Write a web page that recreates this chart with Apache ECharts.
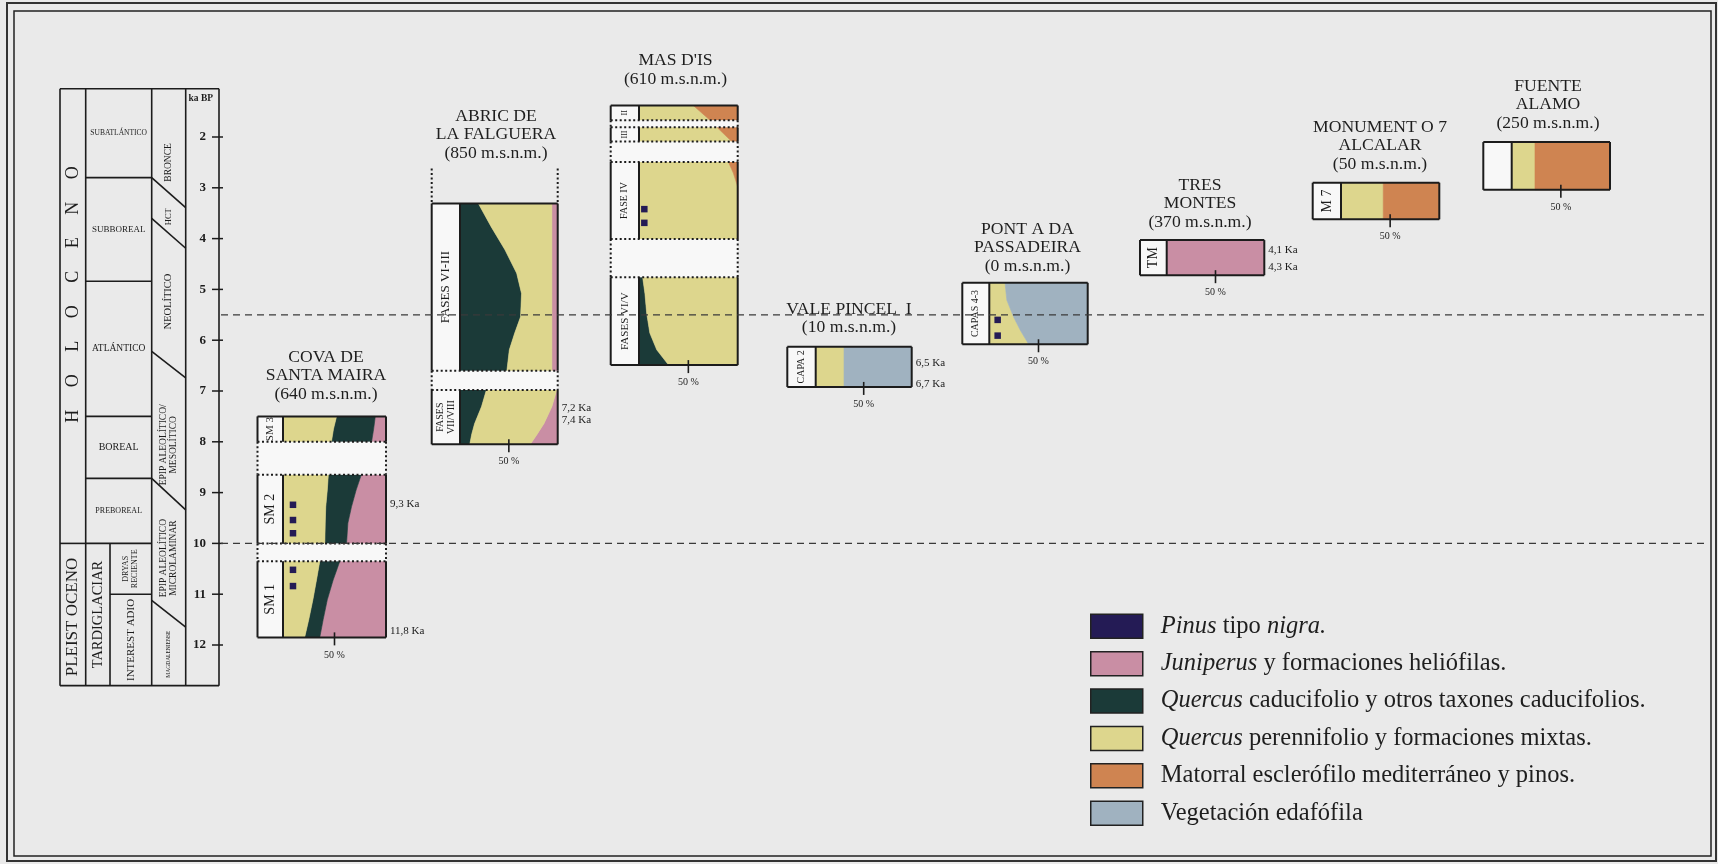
<!DOCTYPE html>
<html>
<head>
<meta charset="utf-8">
<script src="https://cdn.jsdelivr.net/npm/echarts@6/dist/echarts.min.js"></script>
<style>
  html, body { margin: 0; padding: 0; background: #eaeaea; }
  #chart { width: 1718px; height: 864px; }
</style>
</head>
<body>
<div id="chart"></div>
<script>
// ---------- vegetation groups (legend order) ----------
const GROUP_KEYS = ['pin', 'jun', 'qca', 'qpe', 'mat', 'eda'];
const GROUP_NAMES = [
  'Pinus tipo nigra.',
  'Juniperus y formaciones heliófilas.',
  'Quercus caducifolio y otros taxones caducifolios.',
  'Quercus perennifolio y formaciones mixtas.',
  'Matorral esclerófilo mediterráneo y pinos.',
  'Vegetación edafófila'
];
const GROUP_COLORS = ['#241b55', '#c98ea4', '#1b3a38', '#ddd68d', '#cf8451', '#a0b2c0'];

// ---------- chronology column (ka BP) ----------
const KA_TICKS = [2, 3, 4, 5, 6, 7, 8, 9, 10, 11, 12];
const TABLE_SPAN = [1.05, 12.8];
const EPOCH_NAMES = ['H     O     L     O     C     E     N     O', 'PLEIST OCENO'];
const EPOCH_SPANS = [[1.05, 10], [10, 12.8]];
const EPOCH_MID = [5.1, 11.45];
const PERIOD_NAMES = ['SUBATLÁNTICO', 'SUBBOREAL', 'ATLÁNTICO', 'BOREAL', 'PREBOREAL'];
const PERIOD_SPANS = [[1.05, 2.8], [2.8, 4.84], [4.84, 7.5], [7.5, 8.72], [8.72, 10]];
const LATE_NAMES = ['TARDIGLACIAR'];
const LATE_SPANS = [[10, 12.8]];
const STADIAL_NAMES = ['DRYAS\nRECIENTE', 'INTEREST ADIO'];
const STADIAL_SPANS = [[10, 11], [11, 12.8]];
const CULTURE_NAMES = ['BRONCE', 'HCT', 'NEOLÍTICO', 'EPIP ALEOLÍTICO/\nMESOLÍTICO', 'EPIP ALEOLÍTICO\nMICROLAMINAR', 'MAGDALENIENSE'];
const CULTURE_MID = [2.5, 3.57, 5.24, 8.06, 10.29, 12.18];
const CULTURE_LIMITS = [[2.8, 3.39], [3.6, 4.19], [6.22, 6.74], [8.72, 9.34], [11.12, 11.65]];
const CLIMATE_BREAKS = [5.5, 10];

// ---------- sites ----------
const SITE_NAMES = ['COVA DE\nSANTA MAIRA', 'ABRIC DE\nLA FALGUERA', "MAS D'IS", 'VALE PINCEL  I',
  'PONT A DA\nPASSADEIRA', 'TRES\nMONTES', 'MONUMENT O 7\nALCALAR', 'FUENTE\nALAMO'];
const SITE_ALTITUDES = ['(640 m.s.n.m.)', '(850 m.s.n.m.)', '(610 m.s.n.m.)', '(10 m.s.n.m.)',
  '(0 m.s.n.m.)', '(370 m.s.n.m.)', '(50 m.s.n.m.)', '(250 m.s.n.m.)'];

// Cova de Santa Maira: cumulative right edges (%) of each layer
const SM_LABELS = ['SM 3', 'SM 2', 'SM 1'];
const SM3_KA = [7.5, 7.75, 8.0];
const SM3_QPE = [52, 49, 47];
const SM3_QCA = [89.6, 88, 86];
const SM2_KA = [8.65, 8.95, 9.28, 9.6, 10.0];
const SM2_QPE = [44, 43, 41.5, 41, 40.6];
const SM2_QCA = [76, 71, 66.5, 63, 61.7];
const SM1_KA = [10.35, 10.72, 11.11, 11.5, 11.85];
const SM1_QPE = [35.7, 32.5, 29, 25, 21];
const SM1_QCA = [55.2, 48.7, 43, 39, 35.7];
const SM_PINUS_KA = [9.24, 9.54, 9.8, 10.52, 10.84];
const SM_AGES = ['9,3 Ka', '11,8 Ka'];
const SM_AGE_KA = [9.23, 11.72];

// Abric de la Falguera
const FA_LABELS = ['FASES VI-III', 'FASES\nVII/VIII'];
const FA_LEAD = [2.62, 3.31];
const FA1_KA = [3.31, 3.77, 4.22, 4.68, 5.08, 5.54, 5.86, 6.19, 6.6];
const FA1_QCA = [18.8, 32, 46, 58, 63, 62, 56, 50.5, 48];
const FA1_QPE = [94, 94, 94, 94, 94, 94, 94, 94, 94];
const FA2_KA = [6.98, 7.31, 7.64, 7.85, 8.05];
const FA2_QCA = [27, 22, 15, 12, 10];
const FA2_QPE = [99, 94, 86, 79, 72];
const FA_AGES = ['7,2 Ka', '7,4 Ka'];
const FA_AGE_KA = [7.33, 7.57];

// Mas d'Is
const MI_LABELS = ['II', 'III', 'FASE IV', 'FASES VI/V'];
const MI2_KA = [1.38, 1.67];
const MI2_QPE = [55, 72];
const MI3_KA = [1.81, 2.09];
const MI3_QPE = [79, 94];
const MI4_KA = [2.49, 2.71, 2.98, 4.01];
const MI4_QPE = [90.5, 95.6, 100, 100];
const MI5_KA = [4.76, 5.08, 5.47, 5.86, 6.19, 6.49];
const MI5_QCA = [3.7, 6, 7.8, 11, 18, 30];
const MI_PINUS_KA = [3.42, 3.69];

// Vale Pincel I
const VP_LABELS = ['CAPA 2'];
const VP_KA = [6.13, 6.92];
const VP_QPE = [29.5, 29.5];
const VP_AGES = ['6,5 Ka', '6,7 Ka'];
const VP_AGE_KA = [6.45, 6.86];

// Ponta da Passadeira
const PP_LABELS = ['CAPAS 4-3'];
const PP_KA = [4.87, 5.21, 5.54, 5.80, 6.08];
const PP_QPE = [16, 17.8, 24.6, 31.4, 40];
const PP_PINUS_KA = [5.6, 5.91];

// Tres Montes
const TM_LABELS = ['TM'];
const TM_KA = [4.03, 4.72];
const TM_AGES = ['4,1 Ka', '4,3 Ka'];
const TM_AGE_KA = [4.23, 4.57];

// Monumento 7 Alcalar
const M7_LABELS = ['M 7'];
const M7_KA = [2.9, 3.62];
const M7_QPE = [43, 43];

// Fuente Alamo
const FU_LABELS = [''];
const FU_KA = [2.1, 3.04];
const FU_QPE = [23.7, 23.7];

// ---------- layout ----------
const SERIF = 'Liberation Serif';
const INK = '#1c1c1c';
const PAPER = '#f8f8f8';
const BAND_TOP = 35.4, BAND_H = 660.4;      // pixel band of the shared 0–13 ka scale
const KA_MIN = 0, KA_MAX = 13;
const COL_X = [0, 16.16, 31.45, 57.67, 79.06, 100];   // chronology column edges (% of table width)

const SITES = [
  { left: 257.5, labelW: 25.5, chartW: 103, titleX: 326, titleY: 357, labelFont: [11, 14, 14],
    labels: SM_LABELS, segs: [[SM3_KA, ['qpe', 'qca', 'jun'], [SM3_QPE, SM3_QCA]],
                              [SM2_KA, ['qpe', 'qca', 'jun'], [SM2_QPE, SM2_QCA]],
                              [SM1_KA, ['qpe', 'qca', 'jun'], [SM1_QPE, SM1_QCA]]],
    pinus: SM_PINUS_KA, pinusX: 9.7, ages: SM_AGES, ageKa: SM_AGE_KA },
  { left: 431.7, labelW: 28.3, chartW: 97.7, titleX: 496, titleY: 116, labelFont: [13, 10],
    labels: FA_LABELS, lead: FA_LEAD,
    segs: [[FA1_KA, ['qca', 'qpe', 'jun'], [FA1_QCA, FA1_QPE]],
           [FA2_KA, ['qca', 'qpe', 'jun'], [FA2_QCA, FA2_QPE]]],
    ages: FA_AGES, ageKa: FA_AGE_KA },
  { left: 610.7, labelW: 28.3, chartW: 98.7, titleX: 675.5, titleY: 60.5, labelFont: [8, 8, 10, 11],
    labels: MI_LABELS,
    segs: [[MI2_KA, ['qpe', 'mat'], [MI2_QPE]], [MI3_KA, ['qpe', 'mat'], [MI3_QPE]],
           [MI4_KA, ['qpe', 'mat'], [MI4_QPE]], [MI5_KA, ['qca', 'qpe'], [MI5_QCA]]],
    pinus: MI_PINUS_KA, pinusX: 5.4 },
  { left: 787.3, labelW: 28.4, chartW: 96, titleX: 849, titleY: 309, labelFont: [10],
    labels: VP_LABELS, segs: [[VP_KA, ['qpe', 'eda'], [VP_QPE]]],
    ages: VP_AGES, ageKa: VP_AGE_KA },
  { left: 962.3, labelW: 27, chartW: 98.4, titleX: 1027.5, titleY: 229, labelFont: [10],
    labels: PP_LABELS, segs: [[PP_KA, ['qpe', 'eda'], [PP_QPE]]],
    pinus: PP_PINUS_KA, pinusX: 8.5 },
  { left: 1140, labelW: 26.7, chartW: 97.6, titleX: 1200, titleY: 185, labelFont: [14],
    labels: TM_LABELS, segs: [[TM_KA, ['jun'], []]], ages: TM_AGES, ageKa: TM_AGE_KA },
  { left: 1312.7, labelW: 28.3, chartW: 98.3, titleX: 1380, titleY: 127, labelFont: [14],
    labels: M7_LABELS, segs: [[M7_KA, ['qpe', 'mat'], [M7_QPE]]] },
  { left: 1483.3, labelW: 28.4, chartW: 98.3, titleX: 1548, titleY: 86, labelFont: [14],
    labels: FU_LABELS, segs: [[FU_KA, ['qpe', 'mat'], [FU_QPE]]] }
];

// ---------- build ----------
const grids = [], xAxes = [], yAxes = [], series = [];

function addGrid(left, width, xMin, xMax, yExtra) {
  const idx = grids.length;
  grids.push({ left, width, top: BAND_TOP, height: BAND_H });
  xAxes.push({ type: 'value', gridIndex: idx, min: xMin, max: xMax, show: false });
  yAxes.push(Object.assign({ type: 'value', gridIndex: idx, min: KA_MIN, max: KA_MAX, inverse: true, show: false }, yExtra || {}));
  return idx;
}

function lineEl(a, b, style) {
  return { type: 'line', shape: { x1: a[0], y1: a[1], x2: b[0], y2: b[1] }, style };
}
function textEl(p, text, size, extra) {
  return Object.assign({ type: 'text', x: p[0], y: p[1],
    style: { text, fontSize: size, fontFamily: SERIF, fill: INK, align: 'center', verticalAlign: 'middle', lineHeight: Math.round(size * 1.1) } }, extra || {});
}
function vText(p, text, size) {
  return textEl(p, text, size, { rotation: Math.PI / 2 });
}

// chronology table, with the ka BP scale on its right edge
const tIdx = addGrid(60, 159, 0, 100, {
  show: true, position: 'right', offset: 4,
  axisLine: { show: false }, splitLine: { show: false }, axisTick: { show: false },
  axisLabel: { show: true, inside: true, margin: 17, customValues: KA_TICKS,
    fontFamily: SERIF, fontSize: 13, fontWeight: 'bold', color: INK }
});

const PERIOD_FONT = [7.5, 9, 9.5, 10, 8];
const CULTURE_FONT = [9.5, 8.5, 10.5, 9.5, 9.5, 5.5];

series.push({
  type: 'custom', name: 'cronologia', xAxisIndex: tIdx, yAxisIndex: tIdx, silent: true, z: 3,
  data: [[0, TABLE_SPAN[0]]],
  renderItem: (params, api) => {
    const P = (x, v) => api.coord([x, v]);
    const st = { stroke: INK, lineWidth: 1.6 };
    const ch = [];
    const [t0, t1] = TABLE_SPAN;
    [0, 1, 3, 4, 5].forEach(c => ch.push(lineEl(P(COL_X[c], t0), P(COL_X[c], t1), st)));
    ch.push(lineEl(P(0, t0), P(100, t0), st), lineEl(P(0, t1), P(100, t1), st));
    ch.push(lineEl(P(COL_X[2], LATE_SPANS[0][0]), P(COL_X[2], t1), st));
    EPOCH_SPANS.slice(1).forEach(s => ch.push(lineEl(P(COL_X[0], s[0]), P(COL_X[1], s[0]), st)));
    PERIOD_SPANS.forEach(s => ch.push(lineEl(P(COL_X[1], s[1]), P(COL_X[3], s[1]), st)));
    STADIAL_SPANS.slice(1).forEach(s => ch.push(lineEl(P(COL_X[2], s[0]), P(COL_X[3], s[0]), st)));
    CULTURE_LIMITS.forEach(s => ch.push(lineEl(P(COL_X[3], s[0]), P(COL_X[4], s[1]), st)));
    // scale ticks crossing the right edge
    KA_TICKS.forEach(v => {
      const p = P(100, v);
      ch.push(lineEl([p[0] - 7, p[1]], [p[0] + 4, p[1]], { stroke: INK, lineWidth: 1.5 }));
    });

    const c0 = (COL_X[0] + COL_X[1]) / 2;
    EPOCH_NAMES.forEach((n, i) => ch.push(vText(P(c0, EPOCH_MID[i]), n, i === 0 ? 18 : 17)));
    const c1 = (COL_X[1] + COL_X[3]) / 2;
    PERIOD_NAMES.forEach((n, i) => ch.push(textEl(P(c1, (PERIOD_SPANS[i][0] + PERIOD_SPANS[i][1]) / 2), n, PERIOD_FONT[i])));
    const c1a = (COL_X[1] + COL_X[2]) / 2;
    LATE_NAMES.forEach((n, i) => ch.push(vText(P(c1a, (LATE_SPANS[i][0] + LATE_SPANS[i][1]) / 2), n, 14.5)));
    const c1b = (COL_X[2] + COL_X[3]) / 2;
    STADIAL_NAMES.forEach((n, i) => ch.push(vText(P(c1b, (STADIAL_SPANS[i][0] + STADIAL_SPANS[i][1]) / 2), n, i === 0 ? 8 : 11)));
    const c2 = (COL_X[3] + COL_X[4]) / 2;
    CULTURE_NAMES.forEach((n, i) => ch.push(vText(P(c2, CULTURE_MID[i]), n, CULTURE_FONT[i])));
    const c3 = (COL_X[4] + COL_X[5]) / 2;
    const head = textEl(P(c3 - 1, 1.25), 'ka BP', 9.5);
    head.style.fontWeight = 'bold';
    ch.push(head);
    return { type: 'group', children: ch };
  }
});

// site columns
const titles = [];
SITES.forEach((site, si) => {
  const xMin = -100 * site.labelW / site.chartW;
  const g = addGrid(site.left, site.labelW + site.chartW, xMin, 100);
  const segs = site.segs.map((s, i) => ({
    label: site.labels[i], ka: s[0], layers: s[1], cuts: s[2],
    top: s[0][0], bottom: s[0][s[0].length - 1]
  }));

  // vegetation layers, one series per group
  GROUP_KEYS.forEach((key, gi) => {
    if (key === 'pin') return;
    const bands = [];
    segs.forEach(s => s.layers.forEach((k, j) => { if (k === key) bands.push({ s, j }); }));
    if (!bands.length) return;
    series.push({
      type: 'custom', name: GROUP_NAMES[gi], xAxisIndex: g, yAxisIndex: g, silent: true, z: 2,
      itemStyle: { color: GROUP_COLORS[gi] },
      data: bands.map(b => [b.j, b.s.top]),
      renderItem: (params, api) => {
        const { s, j } = bands[params.dataIndex];
        const n = s.ka.length, last = s.layers.length - 1;
        const left = j === 0 ? s.ka.map(() => 0) : s.cuts[j - 1];
        const right = j === last ? s.ka.map(() => 100) : s.cuts[j];
        const pts = [];
        for (let k = 0; k < n; k++) pts.push(api.coord([left[k], s.ka[k]]));
        for (let k = n - 1; k >= 0; k--) pts.push(api.coord([right[k], s.ka[k]]));
        return { type: 'polygon', shape: { points: pts },
          style: { fill: GROUP_COLORS[gi], stroke: GROUP_COLORS[gi], lineWidth: 0.6 } };
      }
    });
  });

  // Pinus occurrences
  if (site.pinus) {
    series.push({
      type: 'scatter', name: GROUP_NAMES[0], xAxisIndex: g, yAxisIndex: g, silent: true, z: 4,
      symbol: 'rect', symbolSize: 6.5, itemStyle: { color: GROUP_COLORS[0], opacity: 1 },
      data: site.pinus.map(v => [site.pinusX, v])
    });
  }

  // frame, phase labels, 50 % mark and dates
  series.push({
    type: 'custom', name: 'marco-' + si, xAxisIndex: g, yAxisIndex: g, silent: true, z: 3,
    data: [[0, segs[0].top]],
    renderItem: (params, api) => {
      const P = (x, v) => api.coord([x, v]);
      const solid = { stroke: INK, lineWidth: 2 };
      const dotted = { stroke: INK, lineWidth: 2, lineDash: [2, 2.5] };
      const ch = [];
      const rect = (a, b, fill) => ch.push({ type: 'rect',
        shape: { x: a[0], y: a[1], width: b[0] - a[0], height: b[1] - a[1] }, style: { fill } });
      if (site.lead) {
        ch.push(lineEl(P(xMin, site.lead[0]), P(xMin, site.lead[1]), dotted));
        ch.push(lineEl(P(100, site.lead[0]), P(100, site.lead[1]), dotted));
      }
      for (let i = 0; i + 1 < segs.length; i++) {
        const g0 = segs[i].bottom, g1 = segs[i + 1].top;
        rect(P(xMin, g0), P(100, g1), PAPER);
        ch.push(lineEl(P(xMin, g0), P(xMin, g1), dotted), lineEl(P(100, g0), P(100, g1), dotted));
      }
      segs.forEach((s, i) => {
        rect(P(xMin, s.top), P(0, s.bottom), PAPER);
        if (s.label) ch.push(vText(P(xMin / 2, (s.top + s.bottom) / 2), s.label, site.labelFont[i]));
        ch.push(lineEl(P(xMin, s.top), P(xMin, s.bottom), solid));
        ch.push(lineEl(P(0, s.top), P(0, s.bottom), solid));
        ch.push(lineEl(P(100, s.top), P(100, s.bottom), solid));
        ch.push(lineEl(P(xMin, s.top), P(100, s.top), i === 0 ? solid : dotted));
        ch.push(lineEl(P(xMin, s.bottom), P(100, s.bottom), i === segs.length - 1 ? solid : dotted));
      });
      const lastSeg = segs[segs.length - 1];
      const b = P(50, lastSeg.bottom);
      ch.push(lineEl([b[0], b[1] - 5], [b[0], b[1] + 8], { stroke: INK, lineWidth: 1.6 }));
      ch.push(textEl([b[0], b[1] + 17.5], '50 %', 10));
      (site.ages || []).forEach((t, k) => {
        const p = P(100, site.ageKa[k]);
        const el = textEl([p[0] + 4, p[1]], t, 11);
        el.style.align = 'left';
        ch.push(el);
      });
      return { type: 'group', children: ch };
    }
  });

  titles.push({
    text: SITE_NAMES[si] + '\n' + SITE_ALTITUDES[si],
    left: site.titleX, top: site.titleY - 9.25, textAlign: 'center', padding: 0,
    textStyle: { fontFamily: SERIF, fontSize: 17.6, fontWeight: 'normal', lineHeight: 18.5, color: '#1e1e1e' }
  });
});

// climatic reference lines
const guide = addGrid(221, 1484, 0, 100);
CLIMATE_BREAKS.forEach((v, i) => {
  series.push({
    type: 'line', name: 'limite-' + i, xAxisIndex: guide, yAxisIndex: guide, silent: true, z: 5,
    symbol: 'none', data: [[0, v], [100, v]],
    lineStyle: { color: '#3a3a3a', width: 1.2, type: [7, 5] }
  });
});

const chart = echarts.init(document.getElementById('chart'), null, { width: 1718, height: 864 });
chart.setOption({
  backgroundColor: '#eaeaea',
  animation: false,
  title: titles,
  grid: grids,
  xAxis: xAxes,
  yAxis: yAxes,
  legend: {
    data: GROUP_NAMES, orient: 'vertical', left: 1090, top: 613.5, padding: 0,
    itemWidth: 52, itemHeight: 24, itemGap: 11.9, icon: 'rect', selectedMode: false,
    itemStyle: { borderColor: '#222', borderWidth: 1.5 },
    formatter: name => name.replace(/(Pinus|nigra\.|Juniperus|Quercus)/g, '{i|$1}'),
    textStyle: {
      fontFamily: SERIF, fontSize: 24.5, lineHeight: 24, color: '#1e1e1e', padding: [0, 0, 0, 13],
      rich: { i: { fontFamily: SERIF, fontSize: 24.5, lineHeight: 24, fontStyle: 'italic', color: '#1e1e1e' } }
    }
  },
  graphic: [
    { type: 'rect', shape: { x: 7, y: 3, width: 1709, height: 858 }, style: { fill: 'none', stroke: '#333', lineWidth: 2 }, silent: true },
    { type: 'rect', shape: { x: 14, y: 11, width: 1697, height: 845 }, style: { fill: 'none', stroke: '#222', lineWidth: 1.5 }, silent: true }
  ],
  series
});
</script>
</body>
</html>
